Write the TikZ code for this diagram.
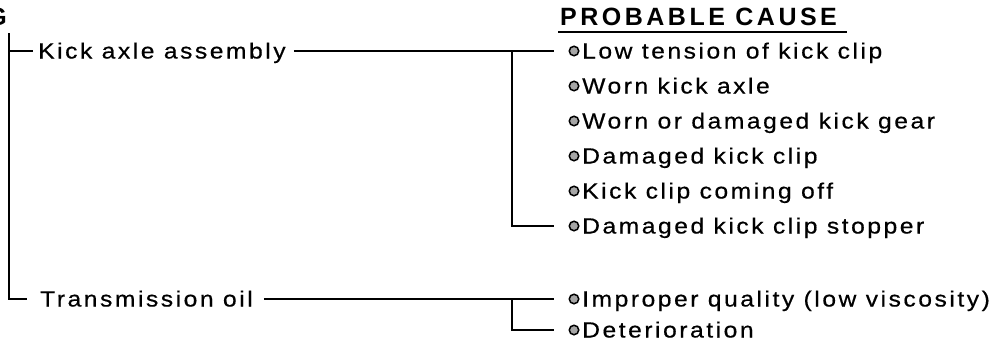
\documentclass[tikz,border=0pt]{standalone}
\usepackage{fontspec}
\setmainfont{Liberation Sans}
\newfontfamily\bodyfont[LetterSpace=11.5,FakeStretch=1.12,FakeBold=0.5]{Liberation Sans}
\newfontfamily\headfont[LetterSpace=14]{Liberation Sans Bold}
\begin{document}
\begin{tikzpicture}[x=1pt,y=-1pt,
  txt/.style={inner sep=0pt, text height=15pt, text depth=0pt, anchor=west,
    font=\bodyfont\fontsize{22}{24}\selectfont},
  head/.style={inner sep=0pt, font=\headfont\fontsize{25}{28}\selectfont},
  bul/.style={circle, draw, line width=1.5pt, fill=gray!70, minimum size=9.5pt, inner sep=0pt},
  conn/.style={line width=1.8pt},
  brk/.style={line width=2.6pt},
  tree/.style={line width=2.2pt}]
\useasboundingbox (0,0) rectangle (998,348);
% heading
\begin{scope}
\clip (0,0) rectangle (998,348);
\node[head, anchor=base east] (g) at (7,25) {G};
\end{scope}
\node[head, anchor=base west] (hd) at (560,25) {PROBABLE CAUSE};
\draw[line width=1.6pt] ([shift={(-2,7)}]hd.base west) -- ([shift={(10,7)}]hd.base east);
% items
\node[txt] (kax) at (38,51) {Kick axle assembly};
\node[txt] (toil) at (40,299) {Transmission oil};
\node[txt] (c1) at (582,51) {Low tension of kick clip};
\node[txt] (c2) at (582,86) {Worn kick axle};
\node[txt] (c3) at (582,121) {Worn or damaged kick gear};
\node[txt] (c4) at (582,156) {Damaged kick clip};
\node[txt] (c5) at (582,191) {Kick clip coming off};
\node[txt] (c6) at (582,226) {Damaged kick clip stopper};
\node[txt] (c7) at (582,299) {Improper quality (low viscosity)};
\node[txt] (c8) at (582,330) {Deterioration};
\node[bul] (b1) at (574,51) {};
\node[bul] (b2) at (574,86) {};
\node[bul] (b3) at (574,121) {};
\node[bul] (b4) at (574,156) {};
\node[bul] (b5) at (574,191) {};
\node[bul] (b6) at (574,226) {};
\node[bul] (b7) at (574,299) {};
\node[bul] (b8) at (574,330) {};
% left tree
\coordinate (ltop) at (9,33);
\draw[tree] (ltop) |- ([xshift=-13pt]toil.west);
\draw[tree] (ltop |- kax.west) -- ([xshift=-5pt]kax.west);
% connectors
\coordinate (j1) at (512,51);
\coordinate (j2) at (512,299);
\draw[conn] ([xshift=8pt]kax.east) -- ([xshift=-20pt]b1.center);
\draw[brk] (j1) |- ([xshift=-20pt]b6.center);
\draw[conn] ([xshift=11pt]toil.east) -- ([xshift=-20pt]b7.center);
\draw[brk] (j2) |- ([xshift=-20pt]b8.center);
\end{tikzpicture}
\end{document}
